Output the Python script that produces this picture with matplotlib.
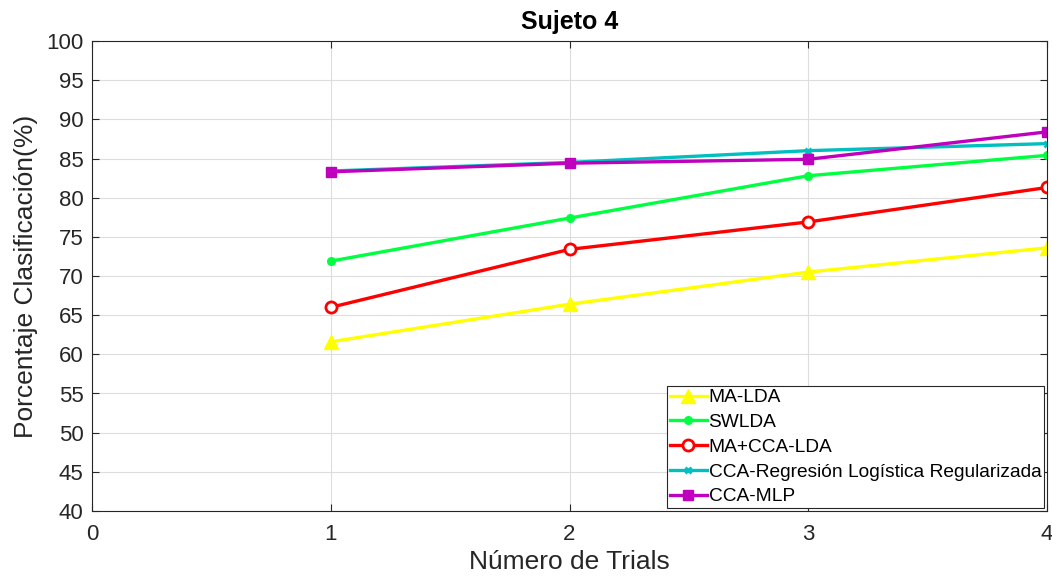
import matplotlib.pyplot as plt

plt.rcParams['font.family'] = ['Liberation Sans', 'DejaVu Sans']

# Accuracy per number of trials
trials = [1, 2, 3, 4]
ma_lda = [61.6, 66.4, 70.5, 73.6]
swlda = [71.9, 77.4, 82.8, 85.4]
ma_cca_lda = [66.0, 73.4, 76.9, 81.3]
cca_rlr = [83.4, 84.5, 86.0, 86.9]
cca_mlp = [83.3, 84.4, 84.9, 88.4]

labels = ['MA-LDA', 'SWLDA', 'MA+CCA-LDA',
          'CCA-Regresión Logística Regularizada', 'CCA-MLP']

fig = plt.figure(figsize=(10.52, 5.84), dpi=100)
ax = fig.add_axes([92 / 1052, 1 - 511 / 584, (1047 - 92) / 1052, (511 - 41) / 584])

lw = 2.4
ax.plot(trials, ma_lda, color='#FFFF00', lw=lw, marker='^', ms=10, label=labels[0])
ax.plot(trials, swlda, color='#00FF40', lw=lw, marker='o', ms=5.5, label=labels[1])
ax.plot(trials, ma_cca_lda, color='#FF0000', lw=lw, marker='o', ms=8,
        mfc='white', mew=2, label=labels[2])
ax.plot(trials, cca_rlr, color='#00BFBF', lw=lw, marker='x', ms=5, mew=2, label=labels[3])
ax.plot(trials, cca_mlp, color='#BF00BF', lw=lw, marker='s', ms=6.5, label=labels[4])

ax.set_xlim(0, 4)
ax.set_ylim(40, 100)
ax.set_xticks(range(0, 5))
ax.set_yticks(range(40, 101, 5))
ax.tick_params(direction='in', labelsize=16, top=True, right=True, length=5,
               color='#262626', labelcolor='#262626')
ax.tick_params(axis='x', pad=9)
ax.tick_params(axis='y', pad=6)
ax.grid(True, color='#DDDDDD', lw=0.8)
for s in ax.spines.values():
    s.set_color('#262626')
    s.set_linewidth(0.8)

ax.set_title('Sujeto 4', fontsize=18, fontweight='bold', pad=9)
ax.set_xlabel('Número de Trials', fontsize=19, color='#262626', labelpad=4)
ax.set_ylabel('Porcentaje Clasificación(%)', fontsize=19, color='#262626', labelpad=6)

leg = ax.legend(loc='lower right', fontsize=13.8, fancybox=False, framealpha=1,
                edgecolor='#262626', borderpad=0.15, labelspacing=0.38,
                handlelength=1.9, handletextpad=0.1, borderaxespad=0.15)
leg.get_frame().set_linewidth(0.8)

fig.savefig('out.png', dpi=100)
